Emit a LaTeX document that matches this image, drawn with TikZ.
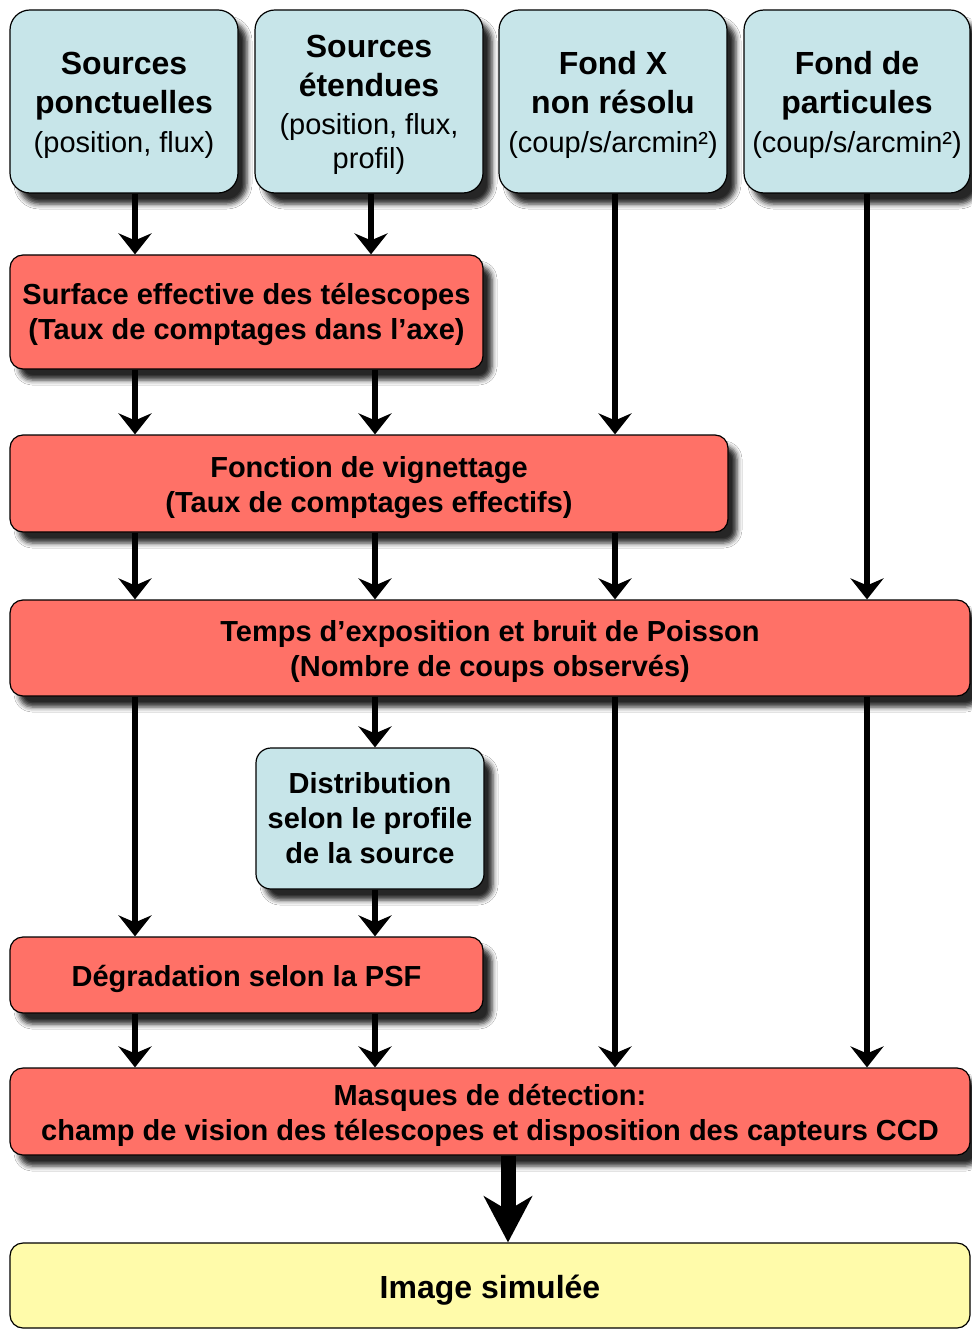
\documentclass[tikz,border=0pt]{standalone}
\usepackage{fontspec}
\setmainfont{Liberation Sans}
\usetikzlibrary{arrows.meta,shadows.blur}
\definecolor{cblue}{RGB}{199,229,233}
\definecolor{cred}{RGB}{255,113,103}
\definecolor{cyel}{RGB}{255,251,170}
\newcommand{\paren}[1]{{\fontsize{29}{34}\selectfont\mdseries #1}}
\newcommand{\lift}[1]{\rule{0pt}{#1}}
\begin{document}
\begin{tikzpicture}[x=1pt,y=-1pt,
  box/.style={draw=black, line width=1.2pt, align=center, inner sep=0pt,
    blur shadow={shadow xshift=9pt, shadow yshift=-11pt, shadow blur radius=5pt, shadow opacity=85}},
  inbox/.style={box, fill=cblue, rounded corners=20pt, font=\fontsize{32}{39}\selectfont\bfseries},
  procbox/.style={box, fill=cred, rounded corners=13pt, font=\fontsize{29}{35}\selectfont\bfseries},
  outbox/.style={draw=black, line width=1.2pt, fill=cyel, rounded corners=13pt, align=center,
    inner sep=0pt, font=\fontsize{32}{39}\selectfont\bfseries},
  arr/.style={line width=6.5pt, -{Stealth[length=21pt,width=33pt,inset=7pt]}},
  bigarr/.style={line width=15pt, -{Stealth[length=46pt,width=48pt,inset=14pt]}},
  ]
\useasboundingbox (0,0) rectangle (971,1329);
\fill[white] (0,0) rectangle (971,1329);

\node[inbox, minimum width=228pt, minimum height=183pt] (sp) at (124,101.5)
  {\lift{30pt}Sources\\ponctuelles\\\paren{(position, flux)}};
\node[inbox, minimum width=228pt, minimum height=183pt] (se) at (369,101.5)
  {\lift{30pt}Sources\\étendues\\[-1pt]\paren{(position, flux,}\\[-5pt]\paren{profil)}};
\node[inbox, minimum width=228pt, minimum height=183pt] (fx) at (613,101.5)
  {\lift{30pt}Fond X\\non résolu\\\paren{(coup/s/arcmin²)}};
\node[inbox, minimum width=226pt, minimum height=183pt] (fp) at (857,101.5)
  {\lift{30pt}Fond de\\particules\\\paren{(coup/s/arcmin²)}};

\node[procbox, minimum width=473pt, minimum height=114pt] (eff) at (246.5,312)
  {\lift{26pt}Surface effective des télescopes\\(Taux de comptages dans l’axe)};
\node[procbox, minimum width=718pt, minimum height=97pt] (vig) at (369,483.5)
  {\lift{30pt}Fonction de vignettage\\(Taux de comptages effectifs)};
\node[procbox, minimum width=960pt, minimum height=96pt] (tmp) at (490,648)
  {\lift{28pt}Temps d’exposition et bruit de Poisson\\(Nombre de coups observés)};
\node[inbox, rounded corners=15pt, font=\fontsize{29}{35}\selectfont\bfseries,
  minimum width=228pt, minimum height=141pt] (dis) at (370,818.5)
  {Distribution\\selon le profile\\de la source};
\node[procbox, minimum width=473pt, minimum height=76pt] (deg) at (246.5,975)
  {\lift{30pt}Dégradation selon la PSF};
\node[procbox, minimum width=960pt, minimum height=87pt] (msk) at (490,1111.5)
  {\lift{28pt}Masques de détection:\\champ de vision des télescopes et disposition des capteurs CCD};
\node[outbox, minimum width=960pt, minimum height=85pt] (img) at (490,1285.5)
  {\lift{32pt}Image simulée};

\coordinate (c1) at (135,0);
\coordinate (c2a) at (371,0);
\coordinate (c2) at (375,0);
\coordinate (c3) at (615,0);
\coordinate (c4) at (867,0);
\coordinate (c5) at (508,0);

\draw[arr] (sp.south -| c1) -- (eff.north -| c1);
\draw[arr] (se.south -| c2a) -- (eff.north -| c2a);
\draw[arr] (fx.south -| c3) -- (vig.north -| c3);
\draw[arr] (fp.south -| c4) -- (tmp.north -| c4);
\draw[arr] (eff.south -| c1) -- (vig.north -| c1);
\draw[arr] (eff.south -| c2) -- (vig.north -| c2);
\draw[arr] (vig.south -| c1) -- (tmp.north -| c1);
\draw[arr] (vig.south -| c2) -- (tmp.north -| c2);
\draw[arr] (vig.south -| c3) -- (tmp.north -| c3);
\draw[arr] (tmp.south -| c1) -- (deg.north -| c1);
\draw[arr] (tmp.south -| c2) -- (dis.north -| c2);
\draw[arr] (dis.south -| c2) -- (deg.north -| c2);
\draw[arr] (tmp.south -| c3) -- (msk.north -| c3);
\draw[arr] (tmp.south -| c4) -- (msk.north -| c4);
\draw[arr] (deg.south -| c1) -- (msk.north -| c1);
\draw[arr] (deg.south -| c2) -- (msk.north -| c2);
\draw[bigarr] (msk.south -| c5) -- (img.north -| c5);
\end{tikzpicture}
\end{document}
